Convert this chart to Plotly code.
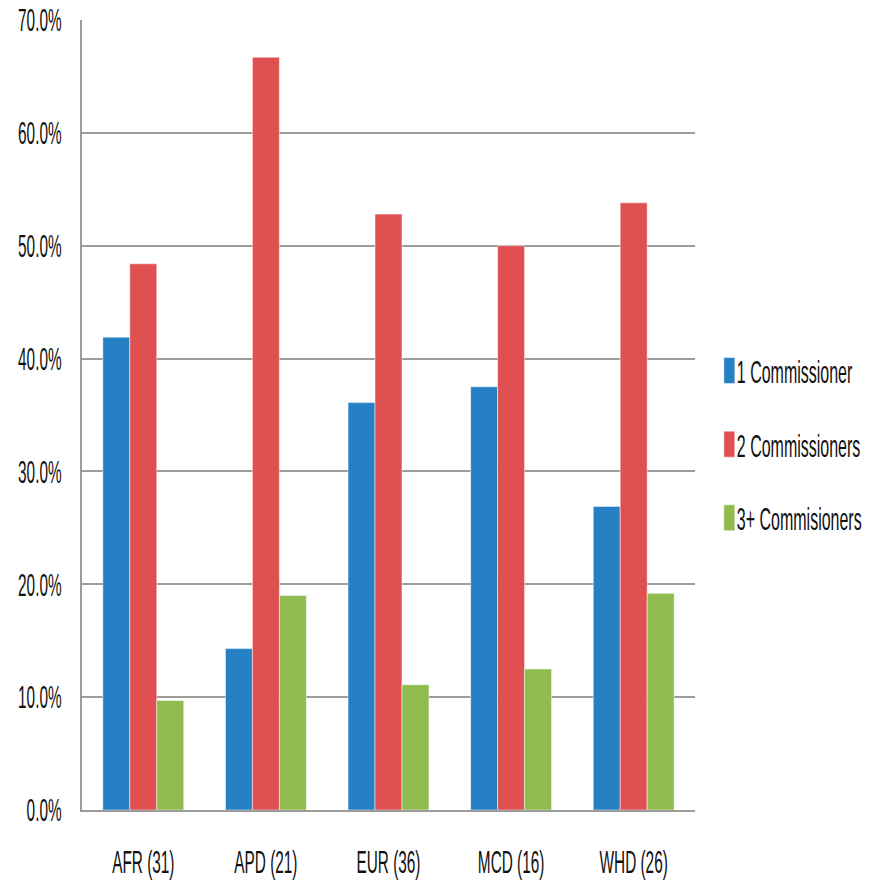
import plotly.graph_objects as go

categories = ["AFR (31)", "APD (21)", "EUR (36)", "MCD (16)", "WHD (26)"]
one_comm = [0.419, 0.143, 0.361, 0.375, 0.269]
two_comm = [0.484, 0.667, 0.528, 0.500, 0.538]
three_comm = [0.097, 0.190, 0.111, 0.125, 0.192]
series_names = ["1 Commissioner", "2 Commissioners", "3+ Commisioners"]
colors = ["#2581c4", "#e05050", "#8fbb4f"]

font_family = "Liberation Sans, Arial, sans-serif"

fig = go.Figure()
for i, (name, vals, col) in enumerate(zip(series_names, [one_comm, two_comm, three_comm], colors)):
    fig.add_trace(go.Bar(x=categories, y=vals, name=name, marker_color=col,
                         legendgroup=f"g{i}",
                         marker_line=dict(color="white", width=0.5)))

fig.update_layout(
    width=880, height=882,
    barmode="group", bargap=0.34, bargroupgap=0,
    plot_bgcolor="white", paper_bgcolor="white",
    margin=dict(l=82, r=185, t=20, b=72, autoexpand=False),
    font=dict(family=font_family, size=32, color="#111111"),
    legend=dict(x=1.003, y=0.463, yanchor="middle", xanchor="left",
                font=dict(size=32), itemwidth=30, tracegroupgap=29,
                traceorder="grouped", bgcolor="rgba(0,0,0,0)"),
    showlegend=True,
)
fig.update_yaxes(range=[0, 0.7], dtick=0.1, tickformat=".1%",
                 showgrid=True, gridcolor="#9c9c9c", gridwidth=2,
                 showline=True, linecolor="#9c9c9c", linewidth=2,
                 ticks="", ticklen=0, zeroline=False, ticklabelstandoff=12)
fig.update_xaxes(showline=True, linecolor="#9c9c9c", linewidth=2, tickangle=0,
                 ticks="", showgrid=False, ticklabelstandoff=23)

# Condense the text horizontally (reference uses a narrow typeface)
post = """
var gd = document.getElementById('{plot_id}');
function squeeze() {
  gd.querySelectorAll('g.xtick text, g.ytick text, text.legendtext').forEach(function (t) {
    if (t.getAttribute('data-sq')) return;
    var k = t.classList.contains('legendtext') ? 0.5 : 0.48;
    var x = parseFloat(t.getAttribute('x') || 0);
    var tr = t.getAttribute('transform') || '';
    t.setAttribute('transform', tr + ' translate(' + x + ',0) scale(' + k + ',1) translate(' + (-x) + ',0)');
    t.setAttribute('data-sq', '1');
  });
  gd.querySelectorAll('g.legendpoints path').forEach(function (p) {
    p.setAttribute('d', 'M18,13H7V-13H18Z');
  });
}
squeeze();
"""
fig.write_html("out.html", post_script=post)
